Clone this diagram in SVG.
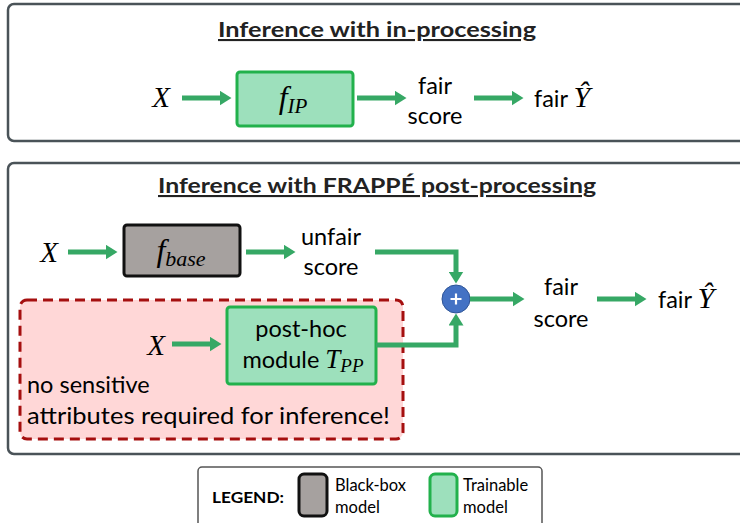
<svg xmlns="http://www.w3.org/2000/svg" width="740" height="523" viewBox="0 0 740 523">
<defs>
<marker id="ah" markerUnits="userSpaceOnUse" markerWidth="12" markerHeight="15" viewBox="0 0 12 15" refX="0.5" refY="7.5" orient="auto">
<path d="M0,0 L12,7.5 L0,15 z" fill="#36a865"/>
</marker>
<style>
.panel{fill:#fff;stroke:#4a5358;stroke-width:2.5}
.t{font-family:Lato,"Open Sans",sans-serif;font-size:23.5px;fill:#000}
.title{font-family:Lato,"Open Sans",sans-serif;font-size:21px;font-weight:bold;fill:#222;text-decoration:underline}
.m{font-family:"Liberation Serif","DejaVu Serif",serif;font-style:italic;fill:#000}
.arr{stroke:#36a865;stroke-width:5;fill:none;marker-end:url(#ah)}
.green{fill:#9de0bc;stroke:#22b14c;stroke-width:3}
.gray{fill:#a6a19f;stroke:#111;stroke-width:3}
.lt{font-family:Lato,"Open Sans",sans-serif;font-size:16.5px;fill:#000}
</style>
</defs>

<g id="panel-inproc">
<rect class="panel" x="8" y="4" width="745" height="137" rx="6"/>
<text class="title" x="377" y="37" text-anchor="middle" textLength="318" lengthAdjust="spacingAndGlyphs">Inference with in-processing</text>
</g>
<g id="x-top"><text class="m" x="161" y="107" font-size="29" text-anchor="middle">X</text></g>
<g id="f-ip">
<rect class="green" x="237" y="72" width="116" height="54" rx="3"/>
<text class="m" x="293" y="108" font-size="32" text-anchor="middle">f<tspan font-size="21" dy="5">IP</tspan></text>
</g>
<g id="fair-score-top"><text class="t" x="435" y="94" text-anchor="middle">fair</text><text class="t" x="435" y="124" text-anchor="middle">score</text></g>
<g id="fair-y-top"><text class="t" x="534" y="107">fair <tspan class="m" font-size="30">Ŷ</tspan></text></g>

<g id="panel-post">
<rect class="panel" x="8" y="163" width="745" height="291" rx="6"/>
<text class="title" x="377" y="193" text-anchor="middle" textLength="438" lengthAdjust="spacingAndGlyphs">Inference with FRAPPÉ post-processing</text>
</g>
<g id="x-base"><text class="m" x="49" y="262" font-size="29" text-anchor="middle">X</text></g>
<g id="f-base">
<rect class="gray" x="124" y="225" width="116" height="51" rx="3"/>
<text class="m" x="181" y="261" font-size="32" text-anchor="middle">f<tspan font-size="22" dy="5">base</tspan></text>
</g>
<g id="unfair-score"><text class="t" x="331" y="245" text-anchor="middle">unfair</text><text class="t" x="331" y="275" text-anchor="middle">score</text></g>
<g id="plus">
<circle cx="456" cy="299" r="14" fill="#4472c4" stroke="#2f5597" stroke-width="1"/>
<path d="M450.5,299 H461.5 M456,293.5 V304.5" stroke="#fff" stroke-width="2.2"/>
</g>
<g id="fair-score-post"><text class="t" x="561" y="295" text-anchor="middle">fair</text><text class="t" x="561" y="327" text-anchor="middle">score</text></g>
<g id="fair-y-post"><text class="t" x="658" y="308">fair <tspan class="m" font-size="30">Ŷ</tspan></text></g>

<g id="no-sensitive-region">
<rect x="20" y="300" width="383" height="139" rx="7" fill="#ffd7d7" stroke="#a50f0f" stroke-width="3" stroke-dasharray="10 6"/>
<text class="t" x="27" y="393">no sensitive</text>
<text class="t" x="27" y="424" textLength="363" lengthAdjust="spacingAndGlyphs">attributes required for inference!</text>
</g>
<g id="x-post"><text class="m" x="156" y="355" font-size="29" text-anchor="middle">X</text></g>
<g id="t-pp">
<rect class="green" x="227" y="307" width="149" height="77" rx="3"/>
<text class="t" x="301" y="337" text-anchor="middle">post-hoc</text>
<text class="t" x="303" y="368" text-anchor="middle">module <tspan class="m" font-size="27">T</tspan><tspan class="m" font-size="19" dy="4">PP</tspan></text>
</g>

<g id="connectors">
<line class="arr" x1="182" y1="98" x2="220" y2="98"/>
<line class="arr" x1="357" y1="98" x2="395" y2="98"/>
<line class="arr" x1="474" y1="98" x2="512" y2="98"/>
<line class="arr" x1="68" y1="252" x2="106" y2="252"/>
<line class="arr" x1="246" y1="252" x2="284" y2="252"/>
<path class="arr" d="M375,252 H456 V272"/>
<path class="arr" d="M376,345 H456 V325"/>
<line class="arr" x1="470" y1="299" x2="513" y2="299"/>
<line class="arr" x1="597" y1="299" x2="635" y2="299"/>
<line class="arr" x1="172" y1="344" x2="210" y2="344"/>
</g>

<g id="legend">
<rect x="198" y="467" width="344" height="70" rx="4" fill="#fff" stroke="#555" stroke-width="1.5"/>
<text x="212" y="503" font-family="Lato,'Open Sans',sans-serif" font-size="16" font-weight="bold" textLength="72" lengthAdjust="spacingAndGlyphs">LEGEND:</text>
<rect class="gray" x="299" y="474" width="28" height="42" rx="5"/>
<text class="lt" x="335" y="491">Black-box</text>
<text class="lt" x="335" y="513">model</text>
<rect class="green" x="430" y="474" width="27" height="42" rx="5"/>
<text class="lt" x="463" y="491">Trainable</text>
<text class="lt" x="463" y="513">model</text>
</g>
</svg>
